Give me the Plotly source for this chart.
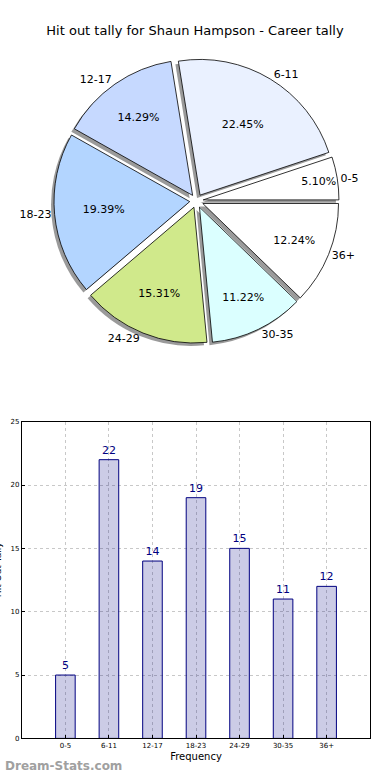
import plotly.graph_objects as go

categories = ["0-5", "6-11", "12-17", "18-23", "24-29", "30-35", "36+"]
tally = [5, 22, 14, 19, 15, 11, 12]
pie_colors = ["#FFFFFF", "#EAF1FF", "#C6D9FF", "#B3D5FF", "#D0E98B", "#DBFFFF", "#FFFFFF"]
title_text = "Hit out tally for Shaun Hampson - Career tally"
xlabel = "Frequency"
ylabel = "Hit Out Tally"
watermark = "Dream-Stats.com"

W, H = 390, 780
FONT = "DejaVu Sans"

# pie geometry in pixels
cx, cy, half = 195, 199, 144
dom_x = [(cx - half) / W, (cx + half) / W]
dom_y = [(H - cy - half) / H, (H - cy + half) / H]
sh = 3
sdom_x = [dom_x[0] - sh / W, dom_x[1] - sh / W]
sdom_y = [dom_y[0] - sh / H, dom_y[1] - sh / H]

pull = [0.05] * len(tally)
# first slice starts at 3 o'clock, going counterclockwise
rot = 90 - 360 * tally[0] / sum(tally)

fig = go.Figure()

# shadow
fig.add_trace(go.Pie(
    labels=categories, values=tally, sort=False, direction="counterclockwise",
    rotation=rot, pull=pull, domain=dict(x=sdom_x, y=sdom_y),
    marker=dict(colors=["#9a9a9a"] * len(tally), line=dict(width=0)),
    textinfo="none", hoverinfo="skip", showlegend=False,
))
# main pie with percentages
fig.add_trace(go.Pie(
    labels=categories, values=tally, sort=False, direction="counterclockwise",
    rotation=rot, pull=pull, domain=dict(x=dom_x, y=dom_y),
    marker=dict(colors=pie_colors, line=dict(color="#000000", width=0.8)),
    texttemplate="%{percent:.2%}", textposition="inside",
    insidetextorientation="horizontal",
    textfont=dict(family=FONT, size=11, color="#000000"),
    showlegend=False,
))
# transparent overlay for outside labels
fig.add_trace(go.Pie(
    labels=categories, values=tally, sort=False, direction="counterclockwise",
    rotation=rot, pull=pull, domain=dict(x=dom_x, y=dom_y),
    marker=dict(colors=["rgba(0,0,0,0)"] * len(tally), line=dict(width=0)),
    texttemplate="%{label}", textposition="outside",
    outsidetextfont=dict(family=FONT, size=11, color="#000000"),
    hoverinfo="skip", showlegend=False,
))

# bar chart
fig.add_trace(go.Bar(
    x=list(range(len(categories))), y=tally, width=0.45,
    marker=dict(color="rgba(0,0,128,0.2)", line=dict(color="#000080", width=1)),
    text=[str(v) for v in tally], textposition="outside",
    textfont=dict(family=FONT, size=11, color="#000080"),
    cliponaxis=False, xaxis="x", yaxis="y", showlegend=False,
))

fig.update_layout(
    width=W, height=H,
    margin=dict(l=0, r=0, t=0, b=0),
    paper_bgcolor="white", plot_bgcolor="white",
    font=dict(family=FONT, color="#000000"),
    title=dict(text=title_text, x=0.5, xanchor="center", y=1 - 30 / H, yanchor="middle",
               font=dict(family=FONT, size=13, color="#000000")),
    xaxis=dict(
        domain=[19 / W, 370 / W], range=[-1, 7],
        tickmode="array", tickvals=list(range(len(categories))), ticktext=categories,
        tickfont=dict(family=FONT, size=7, color="#000000"),
        showgrid=True, gridcolor="#c8c8c8", griddash="dot", gridwidth=1,
        showline=True, linecolor="#000000", linewidth=1, mirror=True,
        ticks="inside", ticklen=3, tickcolor="#000000",
        zeroline=False, fixedrange=True,
        title=dict(text=xlabel, font=dict(family=FONT, size=10, color="#000000"), standoff=4),
    ),
    yaxis=dict(
        domain=[38 / H, 358 / H], range=[0, 25],
        tickmode="array", tickvals=[0, 5, 10, 15, 20, 25],
        tickfont=dict(family=FONT, size=7, color="#000000"),
        showgrid=True, gridcolor="#c8c8c8", griddash="dot", gridwidth=1,
        showline=True, linecolor="#000000", linewidth=1, mirror=True,
        ticks="inside", ticklen=3, tickcolor="#000000",
        zeroline=False, fixedrange=True,
    ),
    bargap=0.5,
    annotations=[
        dict(text=ylabel, xref="paper", yref="paper", x=0, xshift=-5, xanchor="center",
             y=(H - 572) / H, yanchor="middle", textangle=-90, showarrow=False,
             font=dict(family=FONT, size=9, color="#000000")),
        dict(text="<b>" + watermark + "</b>", xref="paper", yref="paper", x=0, xanchor="left",
             y=(H - 770) / H, yanchor="middle", showarrow=False,
             font=dict(family=FONT, size=12, color="#a0a0a0")),
    ],
)

fig.write_html("out.html", config={"displayModeBar": False},
               post_script="document.body.style.margin='0';document.body.style.overflow='hidden';")
